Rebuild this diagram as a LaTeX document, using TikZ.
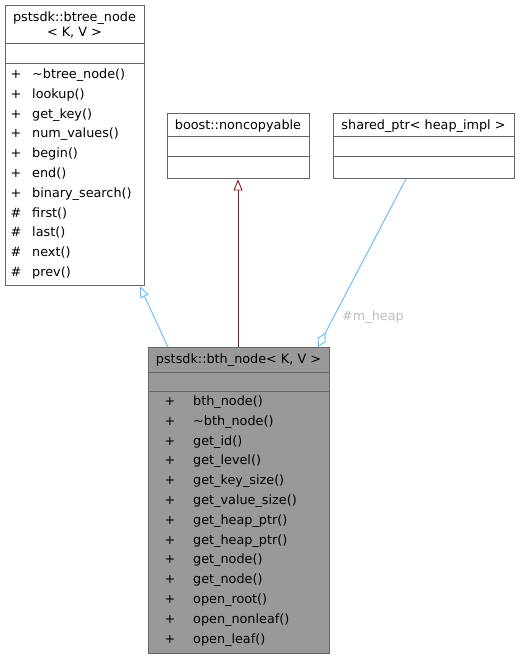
\documentclass[tikz,border=0pt]{standalone}
\usepackage{fontspec}
\setmainfont{DejaVu Sans}
\usetikzlibrary{arrows.meta,calc}
\definecolor{edgeblue}{HTML}{63B8FF}
\definecolor{edgered}{HTML}{8B1A1A}
\definecolor{boxline}{HTML}{666666}
\definecolor{boxfill}{HTML}{999999}
\definecolor{lblgray}{HTML}{BDBDBD}
\tikzset{
  classbox/.style={draw=boxline, line width=0.9pt, inner sep=0pt, anchor=north west},
  txt/.style={inner sep=0pt, font=\fontsize{12.8}{15}\selectfont},
  sep/.style={draw=boxline, line width=0.9pt},
  inh/.style={-{Triangle[open, length=11pt, width=9pt, fill=white]}, line width=0.9pt},
  agg/.style={-{Diamond[open, length=16pt, width=9pt, fill=white]}, line width=0.9pt},
}
\begin{document}
\begin{tikzpicture}[x=1pt,y=-1pt]
\useasboundingbox (0,0) rectangle (520,659);
% btree_node
\node[classbox, fill=white, minimum width=139pt, minimum height=280pt] (A) at (5,5) {};
\node[txt, anchor=base] (At1) at (74.5,21.5) {pstsdk::btree\_node};
\node[txt, anchor=base] (At2) at (74.5,36.5) {< K, V >};
\draw[sep] (5,43) -- (144,43);
\draw[sep] (5,63) -- (144,63);
\foreach \s/\t [count=\i from 0] in {+/{\textasciitilde btree\_node()},+/lookup(),+/get\_key(),+/num\_values(),+/begin(),+/end(),+/binary\_search(),\#/first(),\#/last(),\#/next(),\#/prev()}{
  \node[txt, anchor=base] (As\i) at (16,{78.5+19.8*\i}) {\s};
  \node[txt, anchor=base west] (An\i) at (32,{78.5+19.8*\i}) {\t};
}
% noncopyable
\node[classbox, fill=white, minimum width=142pt, minimum height=65pt] (B) at (167,113) {};
\node[txt, anchor=base] (Bt) at (238,129.5) {boost::noncopyable};
\draw[sep] (167,136) -- (309,136);
\draw[sep] (167,156) -- (309,156);
% shared_ptr
\node[classbox, fill=white, minimum width=181pt, minimum height=65pt] (C) at (333,113) {};
\node[txt, anchor=base] (Ct) at (423.5,129.5) {shared\_ptr< heap\_impl >};
\draw[sep] (333,136) -- (514,136);
\draw[sep] (333,156) -- (514,156);
% bth_node
\node[classbox, fill=boxfill, minimum width=181pt, minimum height=306pt] (D) at (148,347) {};
\node[txt, anchor=base] (Dt) at (238.5,363.5) {pstsdk::bth\_node< K, V >};
\draw[sep] (148,372) -- (329,372);
\draw[sep] (148,391) -- (329,391);
\foreach \t [count=\i from 0] in {bth\_node(),{\textasciitilde bth\_node()},get\_id(),get\_level(),get\_key\_size(),get\_value\_size(),get\_heap\_ptr(),get\_heap\_ptr(),get\_node(),get\_node(),open\_root(),open\_nonleaf(),open\_leaf()}{
  \node[txt, anchor=base] (Ds\i) at (170,{405.5+19.8*\i}) {+};
  \node[txt, anchor=base west] (Dn\i) at (193,{405.5+19.8*\i}) {\t};
}
% connectors
\coordinate (d1) at ($(D.north west)+(20,0)$);
\coordinate (a1) at ($(A.south east)+(-5,0.5)$);
\draw[inh, edgeblue] (d1) -- (a1);
\coordinate (d2) at ($(D.north west)+(90,0)$);
\coordinate (b2) at ($(B.south west)+(71,0.5)$);
\draw[inh, edgered] (d2) -- (b2);
\coordinate (c3) at ($(C.south west)+(73,0)$);
\coordinate (d3) at ($(D.north west)+(170,0)$);
\draw[agg, edgeblue] (c3) -- (d3);
\node[txt, text=lblgray, anchor=base west] (lbl) at (342,320) {\#m\_heap};
\end{tikzpicture}
\end{document}
